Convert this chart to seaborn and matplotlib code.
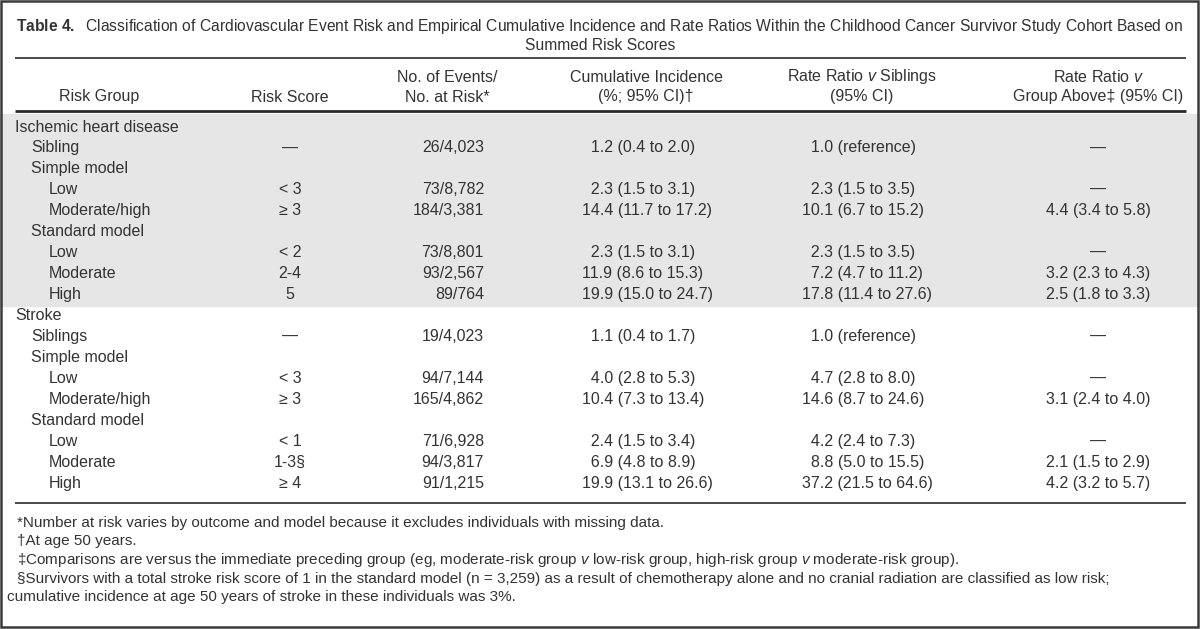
import numpy as np
import seaborn as sns
import matplotlib.pyplot as plt
from matplotlib.patches import Rectangle

# ---- table content ----
title_line1 = (r"$\mathbf{Table\ 4.}$  Classification of Cardiovascular Event Risk and Empirical "
               "Cumulative Incidence and Rate Ratios Within the Childhood Cancer Survivor Study Cohort Based on")
title_line2 = "Summed Risk Scores"

header_top = ["", "", "No. of Events/", "Cumulative Incidence", "Rate Ratio $v$ Siblings", "Rate Ratio $v$"]
header_bottom = ["Risk Group", "Risk Score", "No. at Risk*", "(%; 95% CI)\u2020", "(95% CI)",
                 "Group Above\u2021 (95% CI)"]

risk_group = ["Ischemic heart disease", "Sibling", "Simple model", "Low", "Moderate/high",
              "Standard model", "Low", "Moderate", "High",
              "Stroke", "Siblings", "Simple model", "Low", "Moderate/high",
              "Standard model", "Low", "Moderate", "High"]
indent = [0, 1, 1, 2, 2, 1, 2, 2, 2,
          0, 1, 1, 2, 2, 1, 2, 2, 2]
risk_score = ["", "\u2014", "", "< 3", "\u2265 3", "", "< 2", "2-4", "5",
              "", "\u2014", "", "< 3", "\u2265 3", "", "< 1", "1-3\u00a7", "\u2265 4"]
events = ["", "26/4,023", "", "73/8,782", "184/3,381", "", "73/8,801", "93/2,567", "89/764",
          "", "19/4,023", "", "94/7,144", "165/4,862", "", "71/6,928", "94/3,817", "91/1,215"]
cum_inc = ["", "1.2 (0.4 to 2.0)", "", "2.3 (1.5 to 3.1)", "14.4 (11.7 to 17.2)", "",
           "2.3 (1.5 to 3.1)", "11.9 (8.6 to 15.3)", "19.9 (15.0 to 24.7)",
           "", "1.1 (0.4 to 1.7)", "", "4.0 (2.8 to 5.3)", "10.4 (7.3 to 13.4)", "",
           "2.4 (1.5 to 3.4)", "6.9 (4.8 to 8.9)", "19.9 (13.1 to 26.6)"]
rr_siblings = ["", "1.0 (reference)", "", "2.3 (1.5 to 3.5)", "10.1 (6.7 to 15.2)", "",
               "2.3 (1.5 to 3.5)", "7.2 (4.7 to 11.2)", "17.8 (11.4 to 27.6)",
               "", "1.0 (reference)", "", "4.7 (2.8 to 8.0)", "14.6 (8.7 to 24.6)", "",
               "4.2 (2.4 to 7.3)", "8.8 (5.0 to 15.5)", "37.2 (21.5 to 64.6)"]
rr_above = ["", "\u2014", "", "\u2014", "4.4 (3.4 to 5.8)", "", "\u2014", "3.2 (2.3 to 4.3)",
            "2.5 (1.8 to 3.3)",
            "", "\u2014", "", "\u2014", "3.1 (2.4 to 4.0)", "", "\u2014", "2.1 (1.5 to 2.9)",
            "4.2 (3.2 to 5.7)"]
shaded_rows = 9  # ischemic heart disease block

footnotes = [
    "*Number at risk varies by outcome and model because it excludes individuals with missing data.",
    "\u2020At age 50 years.",
    "\u2021Comparisons are versus the immediate preceding group (eg, moderate-risk group $v$ low-risk group, "
    "high-risk group $v$ moderate-risk group).",
    "\u00a7Survivors with a total stroke risk score of 1 in the standard model (n = 3,259) as a result of "
    "chemotherapy alone and no cranial radiation are classified as low risk;",
]
footnote_wrap = "cumulative incidence at age 50 years of stroke in these individuals was 3%."

# ---- style ----
sns.set_theme(style="white")
plt.rcParams['font.family'] = ['Liberation Sans', 'DejaVu Sans']
plt.rcParams['mathtext.fontset'] = 'custom'
plt.rcParams['mathtext.rm'] = 'Liberation Sans'
plt.rcParams['mathtext.it'] = 'Liberation Sans:italic'
plt.rcParams['mathtext.bf'] = 'Liberation Sans:bold'

FS = 11.5
INK = '#333333'
ROW0, ROWH = 127, 20.95
col_x = {'group': 15, 'score': 290, 'events': 484, 'ci': 582, 'sib': 802, 'above': 1098}
head_x = [99, 290, 447, 646, 862, 1098]


def pad(s):
    # keep decimal points lined up with a figure space
    if not s or "(" not in s:
        return s
    head = s.split(" ")[0]
    return "\u2007" * max(0, 4 - len(head)) + s


fig = plt.figure(figsize=(12, 6.29), dpi=100)
ax = fig.add_axes([0, 0, 1, 1])
ax.set_xlim(0, 1200)
ax.set_ylim(629, 0)
ax.set_axis_off()

rows_y = ROW0 + ROWH * np.arange(len(risk_group))

# shaded block and rules
ax.axhspan(113.5, rows_y[shaded_rows - 1] + 11, color='#e6e6e6', zorder=0)
ax.hlines(58, 15, 1186, color='#2a2a2a', lw=1.2)
ax.hlines(110.5, 15, 1186, color='#2a2a2a', lw=2.0)
ax.hlines(503, 15, 1186, color='#2a2a2a', lw=1.2)
ax.add_patch(Rectangle((1, 1), 1197, 626, fill=False, ec='#3a3a3a', lw=1.8, zorder=5))

# title
ax.text(600, 27, title_line1, ha='center', va='center', fontsize=11.28, color=INK)
ax.text(600, 46, title_line2, ha='center', va='center', fontsize=11.28, color=INK)

# headers
for hx, top, bot in zip(head_x, header_top, header_bottom):
    if top:
        ax.text(hx, 77, top, ha='center', va='center', fontsize=FS, color=INK)
    ax.text(hx, 97, bot, ha='center', va='center', fontsize=FS, color=INK)

# body
for i, yy in enumerate(rows_y):
    ax.text(col_x['group'] + 16 * indent[i] + (2 if indent[i] == 2 else 0), yy, risk_group[i],
            ha='left', va='center', fontsize=FS, color=INK)
    ax.text(col_x['score'], yy, risk_score[i], ha='center', va='center', fontsize=FS, color=INK)
    ax.text(col_x['events'], yy, events[i], ha='right', va='center', fontsize=FS, color=INK)
    ax.text(col_x['ci'], yy, pad(cum_inc[i]), ha='left', va='center', fontsize=FS, color=INK)
    ax.text(col_x['sib'], yy, pad(rr_siblings[i]), ha='left', va='center', fontsize=FS, color=INK)
    ax.text(col_x['above'], yy, rr_above[i], ha='center', va='center', fontsize=FS, color=INK)

# footnotes
for k, note in enumerate(footnotes):
    ax.text(17, 523 + 18.5 * k, note, ha='left', va='center', fontsize=FS - 0.5, color=INK)
ax.text(7, 523 + 18.5 * len(footnotes), footnote_wrap, ha='left', va='center',
        fontsize=FS - 0.5, color=INK)

fig.savefig("out.png", dpi=100)
